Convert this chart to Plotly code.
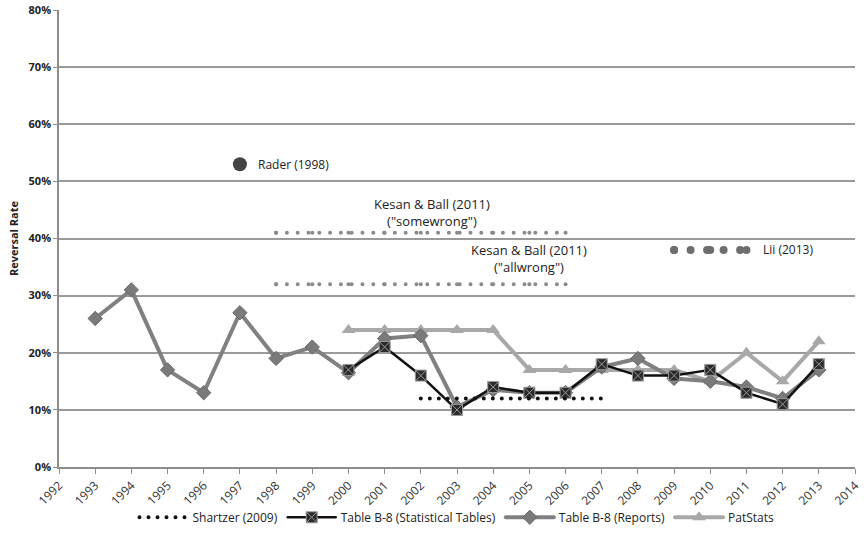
import plotly.graph_objects as go

years_reports = list(range(1993, 2014))
reports = [26, 31, 17, 13, 27, 19, 21, 16.5, 22.5, 23, 10.5, 13.5, 13, 13, 17.5, 19, 15.5, 15, 14, 12, 17]

years_stat = list(range(2000, 2014))
stat_tables = [17, 21, 16, 10, 14, 13, 13, 18, 16, 16, 17, 13, 11, 18]

years_pat = list(range(2000, 2014))
patstats = [24, 24, 24, 24, 24, 17, 17, 17, 17, 17, 15, 20, 15, 22]

shartzer_years = [2002, 2003, 2004, 2005, 2006, 2007]
shartzer = [12, 12, 12, 12, 12, 12]

kesan_years = [1998, 1999, 2000, 2001, 2002, 2003, 2004, 2005, 2006]
kesan_some = [41, 41, 41, 41, 41, 41, 41, 41, 41]
kesan_all = [32, 32, 32, 32, 32, 32, 32, 32, 32]

lii_years = [2009, 2010, 2011]
lii = [38, 38, 38]

rader_year = [1997]
rader = [53]

year_ticks = list(range(1992, 2015))
pct_ticks = list(range(0, 81, 10))

FONT = "Open Sans"
fig = go.Figure()

for vals in (kesan_some, kesan_all):
    fig.add_trace(go.Scatter(x=kesan_years, y=vals, mode="lines+markers", showlegend=False,
                             line=dict(color="#8a8a8a", width=4, dash="0px,10.8px"),
                             marker=dict(color="#8a8a8a", size=4)))
fig.add_trace(go.Scatter(x=lii_years, y=lii, mode="lines+markers", showlegend=False,
                         line=dict(color="#6e6e6e", width=8, dash="0px,16.5px"),
                         marker=dict(color="#6e6e6e", size=8)))
fig.add_trace(go.Scatter(x=rader_year, y=rader, mode="markers", showlegend=False,
                         marker=dict(color="#444444", size=14, symbol="circle")))

fig.add_trace(go.Scatter(x=years_pat, y=patstats, mode="lines+markers", name="PatStats",
                         legendrank=4,
                         line=dict(color="#a8a8a8", width=4),
                         marker=dict(symbol="triangle-up", size=12, color="#a8a8a8")))
fig.add_trace(go.Scatter(x=years_reports, y=reports, mode="lines+markers", name="Table B-8 (Reports)",
                         legendrank=3,
                         line=dict(color="#808080", width=4),
                         marker=dict(symbol="diamond", size=11, color="#7a7a7a",
                                     line=dict(color="#6a6a6a", width=1))))
fig.add_trace(go.Scatter(x=years_stat, y=stat_tables, mode="lines+markers",
                         name="Table B-8 (Statistical Tables)", legendrank=2,
                         line=dict(color="#111111", width=2.5),
                         marker=dict(symbol="square-x", size=11, color="#2a2a2a",
                                     line=dict(color="#9a9a9a", width=1))))
fig.add_trace(go.Scatter(x=shartzer_years, y=shartzer, mode="lines", name="Shartzer (2009)",
                         legendrank=1,
                         line=dict(color="#111111", width=4, dash="0px,9px")))

annots = [
    dict(x=1997.45, y=53, text="Rader (1998)", xanchor="left", size=12),
    dict(x=2002.3, y=44.6, text="Kesan & Ball (2011)<br>(\"somewrong\")", xanchor="center", size=13),
    dict(x=2005.0, y=36.5, text="Kesan & Ball (2011)<br>(\"allwrong\")", xanchor="center", size=13),
    dict(x=2011.4, y=38, text="Lii (2013)", xanchor="left", size=12),
]
fig.update_layout(annotations=[dict(x=a["x"], y=a["y"], text=a["text"], xanchor=a["xanchor"],
                                    xref="x", yref="y", showarrow=False, yanchor="middle",
                                    font=dict(family=FONT, size=a["size"], color="#222222"))
                               for a in annots])

fig.update_layout(
    width=864, height=540,
    margin=dict(l=59, r=9, t=10, b=73, autoexpand=False),
    paper_bgcolor="white", plot_bgcolor="white",
    font=dict(family=FONT, size=11, color="#222222"),
    showlegend=True,
    legend=dict(orientation="h", x=0.5, xanchor="center", y=-0.11, yanchor="middle",
                font=dict(family=FONT, size=12, color="#222222"), itemwidth=48,
                bgcolor="rgba(0,0,0,0)"),
    xaxis=dict(range=[1992, 2014], tickvals=year_ticks, ticktext=[str(y) for y in year_ticks],
               tickangle=-45, showgrid=False, zeroline=False, automargin=False,
               showline=True, linecolor="#8c8c8c", linewidth=1.5,
               ticks="outside", ticklen=5, tickcolor="#8c8c8c",
               tickfont=dict(family=FONT, size=12, color="#333333")),
    yaxis=dict(range=[0, 80], tickvals=pct_ticks, ticktext=[f"{v}%" for v in pct_ticks],
               showgrid=True, gridcolor="#9a9a9a", gridwidth=1.5, zeroline=False, automargin=False,
               showline=True, linecolor="#8c8c8c", linewidth=1.5,
               ticks="outside", ticklen=4, tickcolor="#8c8c8c",
               tickfont=dict(family=FONT, size=11, color="#222222", weight="bold"),
               title=dict(text="Reversal Rate", standoff=8,
                          font=dict(family=FONT, size=11, color="#222222", weight="bold"))),
)

page_fix = ("document.body.style.margin='0';document.body.style.overflow='hidden';"
            "var s=document.createElement('style');"
            "s.textContent='path.js-line{stroke-linecap:round;stroke-linejoin:round}';"
            "document.head.appendChild(s);")
fig.write_html("out.html", post_script=page_fix, config={"displayModeBar": False})
